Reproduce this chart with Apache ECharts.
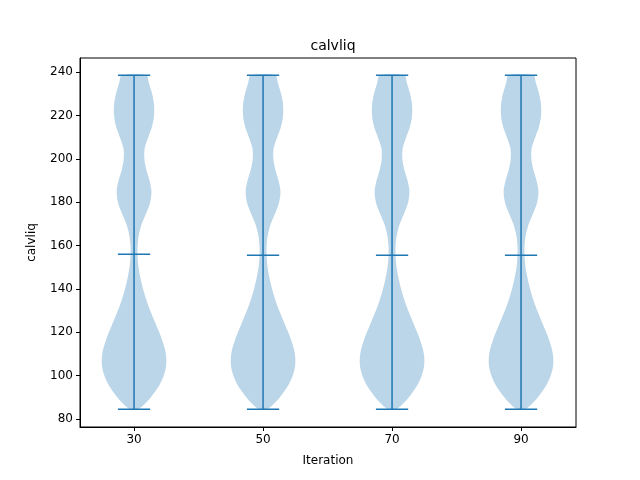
<!DOCTYPE html>
<html>
<head>
<meta charset="utf-8">
<script src="https://cdn.jsdelivr.net/npm/echarts@6/dist/echarts.min.js"></script>
<style>html,body{margin:0;padding:0;background:#fff;}#chart{width:640px;height:480px;}</style>
</head>
<body>
<div id="chart"></div>
<script>
var categories = ['30', '50', '70', '90'];
var positions = [1, 2, 3, 4];
var minValues = [84.5, 84.5, 84.5, 84.5];
var maxValues = [238.5, 238.5, 238.5, 238.5];
var medianValues = [156, 155.5, 155.5, 155.5];
// density profile: [value, relative half width]
var profileValues = [84.5, 88, 92, 96, 100, 104, 108, 112, 116, 120, 125, 130, 135, 140, 145, 150, 155, 160, 165, 170, 175, 180, 185, 190, 195, 200, 205, 210, 215, 220, 225, 230, 235, 238.5];
var profileWidths = [0.12, 0.4, 0.62, 0.8, 0.92, 0.99, 1.0, 0.96, 0.88, 0.78, 0.64, 0.5, 0.38, 0.28, 0.2, 0.14, 0.11, 0.11, 0.15, 0.24, 0.38, 0.5, 0.54, 0.48, 0.38, 0.32, 0.33, 0.44, 0.56, 0.62, 0.62, 0.56, 0.46, 0.38];

var blue = '#1f77b4';
var dom = document.getElementById('chart');
var myChart = echarts.init(dom);

function renderViolin(params, api) {
    var i = params.dataIndex;
    var x = positions[i];
    var left = [], right = [];
    for (var k = 0; k < profileValues.length; k++) {
        var w = profileWidths[k] * 0.25;
        right.push(api.coord([x + w, profileValues[k]]));
        left.unshift(api.coord([x - w, profileValues[k]]));
    }
    var style = { stroke: blue, lineWidth: 1.5 };
    function hline(v) {
        var a = api.coord([x - 0.125, v]), b = api.coord([x + 0.125, v]);
        return { type: 'line', shape: { x1: a[0], y1: a[1], x2: b[0], y2: b[1] }, style: style };
    }
    var top = api.coord([x, maxValues[i]]), bot = api.coord([x, minValues[i]]);
    return {
        type: 'group',
        children: [
            { type: 'polygon', shape: { points: right.concat(left), smooth: 0.3 }, style: { fill: 'rgba(31,119,180,0.3)', stroke: null } },
            { type: 'line', shape: { x1: top[0], y1: top[1], x2: bot[0], y2: bot[1] }, style: style },
            hline(minValues[i]), hline(maxValues[i]), hline(medianValues[i])
        ]
    };
}

var option = {
    animation: false,
    backgroundColor: '#fff',
    textStyle: { fontFamily: 'DejaVu Sans' },
    title: {
        text: 'calvliq', left: 328, top: 34, textAlign: 'center',
        textStyle: { fontSize: 14, fontWeight: 'normal', color: '#000', fontFamily: 'DejaVu Sans' }
    },
    grid: { left: 80, right: 64, top: 58, bottom: 53, show: true, borderColor: '#000', borderWidth: 1 },
    xAxis: {
        type: 'value', min: 0.581, max: 4.426,
        name: 'Iteration', nameLocation: 'middle', nameGap: 28,
        nameTextStyle: { fontSize: 12, color: '#000' },
        splitLine: { show: false },
        axisLine: { show: true, lineStyle: { color: '#000' } },
        axisTick: { show: true, customValues: positions, length: 4, lineStyle: { color: '#000' } },
        axisLabel: {
            customValues: positions, color: '#000', fontSize: 12, margin: 7,
            formatter: function (v) { return categories[Math.round(v) - 1]; }
        }
    },
    yAxis: {
        type: 'value', min: 76.3, max: 246.5,
        name: 'calvliq', nameLocation: 'middle', nameGap: 42,
        nameTextStyle: { fontSize: 12, color: '#000' },
        splitLine: { show: false },
        axisLine: { show: true, lineStyle: { color: '#000' } },
        axisTick: { show: true, customValues: [80, 100, 120, 140, 160, 180, 200, 220, 240], length: 4, lineStyle: { color: '#000' } },
        axisLabel: { customValues: [80, 100, 120, 140, 160, 180, 200, 220, 240], color: '#000', fontSize: 12, margin: 7 }
    },
    series: [{
        type: 'custom',
        renderItem: renderViolin,
        data: positions.map(function (p, i) { return [p, minValues[i], maxValues[i]]; }),
        encode: { x: 0, y: [1, 2] }
    }]
};
myChart.setOption(option, true);
</script>
</body>
</html>
